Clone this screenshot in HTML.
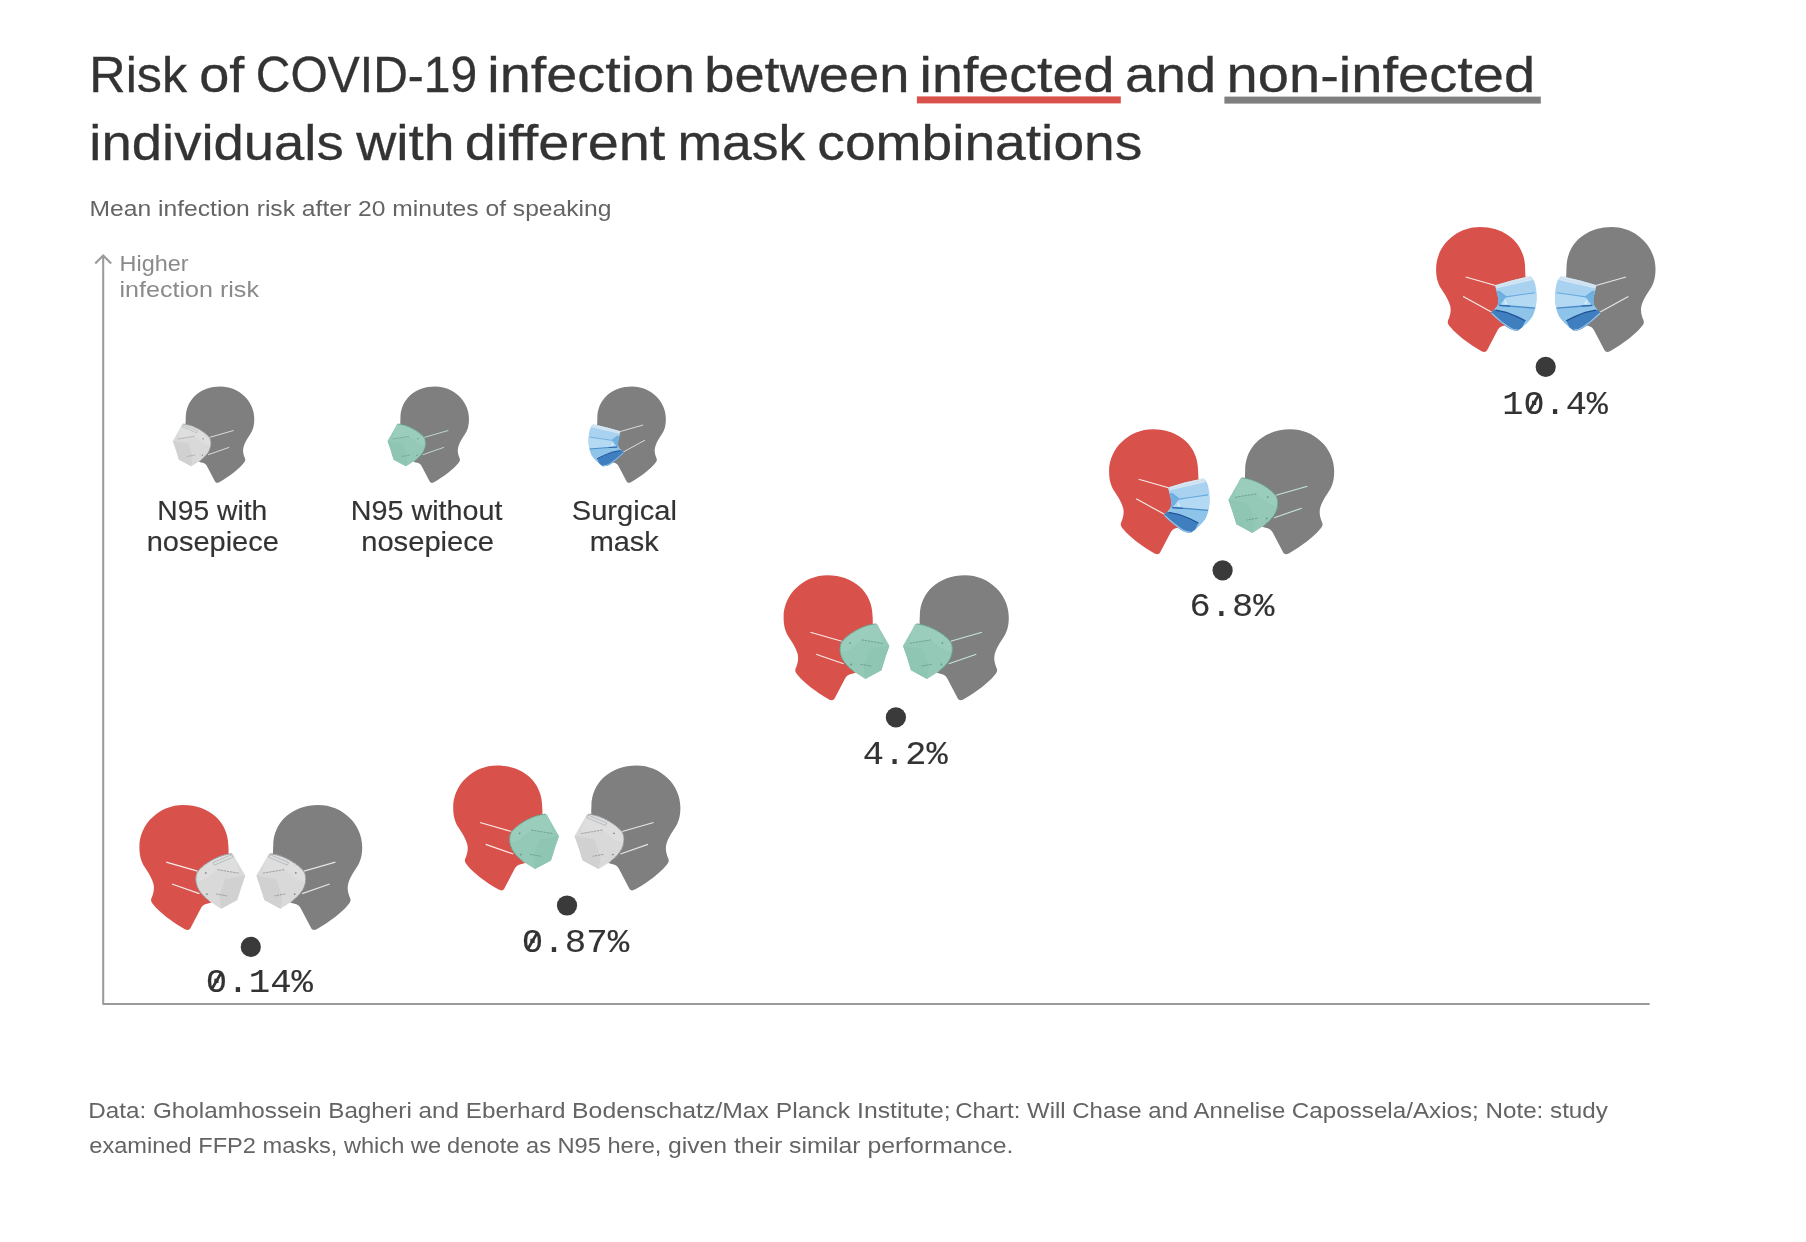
<!DOCTYPE html>
<html lang="en"><head><meta charset="utf-8"><title>Risk of COVID-19 infection with different mask combinations</title>
<style>html,body{margin:0;padding:0;background:#fff}svg{display:block}text{white-space:pre}</style></head>
<body>
<svg width="1806" height="1242" viewBox="0 0 1806 1242">
<rect width="1806" height="1242" fill="#fff"/>
<rect x="916.9" y="96.4" width="203.9" height="7" fill="#d8524b"/>
<rect x="1224.4" y="96.6" width="316.4" height="7" fill="#7f7f7f"/>
<path d="M103.2 255.6V1004H1649.7" fill="none" stroke="#9b9b9b" stroke-width="2.05" stroke-linejoin="round"/>
<path d="M96 262.8L103.2 255.5L110.4 262.8" fill="none" stroke="#9b9b9b" stroke-width="2.15" stroke-linecap="square"/>
<g transform="translate(254.28 386.60) scale(-0.77000 0.77000)"><path d="M43.8 0C20 0 0 19 0 42C0 50 1.5 56.5 5.3 62C8.5 66.8 12.8 73.5 14.1 79C14.9 82.5 14.6 86 13.3 90C12.6 92 11.9 93.3 11.7 94.5C11.4 96.5 12.6 98.2 14.5 100.2C20 107 32 116.5 45.5 124.1C47.5 125.2 49.8 125.4 51 123.2L60.7 104.7C62 101.5 64.5 99 68.6 98.5C71 98.2 73 97 75 95L90 86L93 78L95 70L92 58L89.2 48.5C89.3 46 89.05 43.5 89 41C89 17 70 0 43.8 0Z" fill="#7f7f7f"/><path d="M26.8 57L58.2 66M32.5 78.9L60 88.5" stroke="#e6e6e6" stroke-width="1.15" fill="none"/><path d="M105.8 70.5L95.9 53.3L93.8 49.2Q93.3 48.3 92 48.4L88.8 48.9C79 50.5 66 57 58.4 65.9C56 69 55.5 76 57.6 81.2C59.5 86.5 63 90.5 69.7 96L81.7 103.6L97.8 94.9L101.9 81.8Z" fill="#d9d9d9"/><path d="M105.8 70.5L101.9 81.8L97.8 94.9L81.7 103.6L80 91L86 74Z" fill="#d1d1d1"/><path d="M88.8 48.9C79 50.5 66 57 58.4 65.9C56.5 68.5 55.8 73 56.6 77.5L66 74L78 64.5L99.8 68.1L95.9 53.3L93.8 49.2Q93.3 48.3 92 48.4Z" fill="#e1e1e3" opacity="0.6"/><path d="M92 48.6L88.8 49.1C79 50.7 66.2 57.2 58.6 66.1C56.2 69.2 55.7 76 57.8 81.2C59.7 86.5 63.2 90.4 69.8 95.8" stroke="#858b8d" stroke-width="1" fill="none" stroke-dasharray="1.3 0.45"/><path d="M77.9 64.5L99.8 68.1" stroke="#6f6f6f" stroke-width="0.55" stroke-dasharray="2.4 0.8" fill="none"/><path d="M76.8 88.9L87.7 90.8" stroke="#6f6f6f" stroke-width="0.55" stroke-dasharray="2.4 0.8" fill="none"/><circle cx="66.4" cy="67.8" r="0.9" fill="#858b8d"/><circle cx="67.5" cy="89.1" r="0.9" fill="#858b8d"/><path d="M73.6 57.4L92.3 49.6L93.6 52L75 60Z" fill="#dcdfe0" stroke="#8e9496" stroke-width="0.45"/></g>
<g transform="translate(468.98 386.60) scale(-0.77000 0.77000)"><path d="M43.8 0C20 0 0 19 0 42C0 50 1.5 56.5 5.3 62C8.5 66.8 12.8 73.5 14.1 79C14.9 82.5 14.6 86 13.3 90C12.6 92 11.9 93.3 11.7 94.5C11.4 96.5 12.6 98.2 14.5 100.2C20 107 32 116.5 45.5 124.1C47.5 125.2 49.8 125.4 51 123.2L60.7 104.7C62 101.5 64.5 99 68.6 98.5C71 98.2 73 97 75 95L90 86L93 78L95 70L92 58L89.2 48.5C89.3 46 89.05 43.5 89 41C89 17 70 0 43.8 0Z" fill="#7f7f7f"/><path d="M26.8 57L58.2 66M32.5 78.9L60 88.5" stroke="#c4e4d9" stroke-width="1.15" fill="none"/><path d="M105.8 70.5L95.9 53.3L93.8 49.2Q93.3 48.3 92 48.4L88.8 48.9C79 50.5 66 57 58.4 65.9C56 69 55.5 76 57.6 81.2C59.5 86.5 63 90.5 69.7 96L81.7 103.6L97.8 94.9L101.9 81.8Z" fill="#94c9b8"/><path d="M105.8 70.5L101.9 81.8L97.8 94.9L81.7 103.6L80 91L86 74Z" fill="#8fc5b3"/><path d="M88.8 48.9C79 50.5 66 57 58.4 65.9C56.5 68.5 55.8 73 56.6 77.5L66 74L78 64.5L99.8 68.1L95.9 53.3L93.8 49.2Q93.3 48.3 92 48.4Z" fill="#a0d0c0" opacity="0.6"/><path d="M92 48.6L88.8 49.1C79 50.7 66.2 57.2 58.6 66.1C56.2 69.2 55.7 76 57.8 81.2C59.7 86.5 63.2 90.4 69.8 95.8" stroke="#5f9a89" stroke-width="1" fill="none" stroke-dasharray="1.3 0.45"/><path d="M77.9 64.5L99.8 68.1" stroke="#4a8070" stroke-width="0.55" stroke-dasharray="2.4 0.8" fill="none"/><path d="M76.8 88.9L87.7 90.8" stroke="#4a8070" stroke-width="0.55" stroke-dasharray="2.4 0.8" fill="none"/><circle cx="66.4" cy="67.8" r="0.9" fill="#5f9a89"/><circle cx="67.5" cy="89.1" r="0.9" fill="#5f9a89"/></g>
<g transform="translate(665.88 386.60) scale(-0.77000 0.77000)"><path d="M43.8 0C20 0 0 19 0 42C0 50 1.5 56.5 5.3 62C8.5 66.8 12.8 73.5 14.1 79C14.9 82.5 14.6 86 13.3 90C12.6 92 11.9 93.3 11.7 94.5C11.4 96.5 12.6 98.2 14.5 100.2C20 107 32 116.5 45.5 124.1C47.5 125.2 49.8 125.4 51 123.2L60.7 104.7C62 101.5 64.5 99 68.6 98.5C71 98.2 73 97 75 95L90 86L93 78L95 70L92 58L89.2 48.5C89.3 46 89.05 43.5 89 41C89 17 70 0 43.8 0Z" fill="#7f7f7f"/><path d="M29.6 49.9L59.4 58.4M27.1 69.5L55.3 85" stroke="#e6e6e6" stroke-width="1.15" fill="none"/><path d="M59 58.1L75.5 53.3L91.4 49.6L94.6 49.3C96 50.4 97 51.8 97.8 53.3C98.8 55.5 99.4 57.8 99.7 60.2C100.3 63 100.5 65.6 100.5 68.2C100.6 70.7 100.5 73.2 100.2 75.7C99.9 78.2 99.5 80.7 98.9 83.1C98.2 85.4 97.3 87.5 96.2 89.5C94.8 91.6 93.2 93.5 91.4 95.3L86.1 100.1L81.9 103.3C80 103.5 78.2 103.3 76.5 102.8C74.6 102.1 72.8 101.2 71.2 100.1L64.8 95.3L59.5 90.5L54.7 85.8L58.5 82C59.6 81 60.5 80 61.1 78.9C61.8 77.5 62.2 76 62.2 74.6C62.3 72.8 62.1 71 61.7 69.3L60.3 64Z" fill="#a9d2f0"/><path d="M70.2 69.8L80.8 68.2L98.9 65.6L100.5 68.2L100.2 75.7L98.9 81L78.7 79.4L63.3 78.3L62.2 74.6Z" fill="#b4d9f3"/><path d="M62.7 64L70.2 69.8L67 74L63.3 78.3L61.1 78.9C62.4 76 62.5 72 61.7 69.3L60.3 64Z" fill="#6fb0e2"/><path d="M62.7 64L70.2 69.8L80.8 68.2L98.9 65.6" stroke="#69a9de" stroke-width="1.1" fill="none"/><path d="M63.3 78.3L78.7 79.4L98.9 81C98.3 84 97.4 87 96.2 89.5C94.8 91.6 93.2 93.5 91.4 95.3L86.1 100.1L81.9 103.3L89.3 93.7L80.8 89.5L70.2 85.2L59.5 83.1L61.1 78.9Z" fill="#8ec4ea"/><path d="M63.3 78.3L78.7 79.4L98.9 81" stroke="#4a8ccb" stroke-width="1.3" fill="none"/><path d="M63.3 78.3L74 79.1" stroke="#2f69ad" stroke-width="1.3" fill="none"/><path d="M54.7 85.8L58.5 82L59.5 83.1L70.2 85.2L80.8 89.5L89.3 93.7L86.1 100.1L81.9 103.3C80 103.5 78.2 103.3 76.5 102.8C74.6 102.1 72.8 101.2 71.2 100.1L64.8 95.3L59.5 90.5Z" fill="#3f7fbf"/><path d="M59.5 83.1L70.2 85.2L80.8 89.5L89.3 93.7" stroke="#1f4f90" stroke-width="1.2" fill="none"/><path d="M55.6 86.2L60.2 90.4L65.4 94.8L71.7 99.5C73.2 100.5 74.9 101.4 76.7 102.1C78.3 102.6 80 102.8 81.6 102.7" stroke="#9cc5e6" stroke-width="1.2" fill="none"/><path d="M68 71.4L71.2 76.7L69.1 77.3Z" fill="#dbf1fa"/><path d="M59 58.1L75.5 53.3L91.4 49.6L94.6 49.3C95.5 50.3 96.2 51.5 96.7 52.8L60.1 61.3Z" fill="#d6e7f4"/><path d="M59.8 59.9L95.6 51" stroke="#b3cbe0" stroke-width="0.6" stroke-dasharray="1 0.8" fill="none"/></g>
<g transform="translate(139.40 805.10) scale(1.00000 1.00000)"><path d="M43.8 0C20 0 0 19 0 42C0 50 1.5 56.5 5.3 62C8.5 66.8 12.8 73.5 14.1 79C14.9 82.5 14.6 86 13.3 90C12.6 92 11.9 93.3 11.7 94.5C11.4 96.5 12.6 98.2 14.5 100.2C20 107 32 116.5 45.5 124.1C47.5 125.2 49.8 125.4 51 123.2L60.7 104.7C62 101.5 64.5 99 68.6 98.5C71 98.2 73 97 75 95L90 86L93 78L95 70L92 58L89.2 48.5C89.3 46 89.05 43.5 89 41C89 17 70 0 43.8 0Z" fill="#d8524b"/><path d="M26.8 57L58.2 66M32.5 78.9L60 88.5" stroke="#f8ecea" stroke-width="1.15" fill="none"/><path d="M105.8 70.5L95.9 53.3L93.8 49.2Q93.3 48.3 92 48.4L88.8 48.9C79 50.5 66 57 58.4 65.9C56 69 55.5 76 57.6 81.2C59.5 86.5 63 90.5 69.7 96L81.7 103.6L97.8 94.9L101.9 81.8Z" fill="#d9d9d9"/><path d="M105.8 70.5L101.9 81.8L97.8 94.9L81.7 103.6L80 91L86 74Z" fill="#d1d1d1"/><path d="M88.8 48.9C79 50.5 66 57 58.4 65.9C56.5 68.5 55.8 73 56.6 77.5L66 74L78 64.5L99.8 68.1L95.9 53.3L93.8 49.2Q93.3 48.3 92 48.4Z" fill="#e1e1e3" opacity="0.6"/><path d="M92 48.6L88.8 49.1C79 50.7 66.2 57.2 58.6 66.1C56.2 69.2 55.7 76 57.8 81.2C59.7 86.5 63.2 90.4 69.8 95.8" stroke="#858b8d" stroke-width="1" fill="none" stroke-dasharray="1.3 0.45"/><path d="M77.9 64.5L99.8 68.1" stroke="#6f6f6f" stroke-width="0.55" stroke-dasharray="2.4 0.8" fill="none"/><path d="M76.8 88.9L87.7 90.8" stroke="#6f6f6f" stroke-width="0.55" stroke-dasharray="2.4 0.8" fill="none"/><circle cx="66.4" cy="67.8" r="0.9" fill="#858b8d"/><circle cx="67.5" cy="89.1" r="0.9" fill="#858b8d"/><path d="M73.6 57.4L92.3 49.6L93.6 52L75 60Z" fill="#dcdfe0" stroke="#8e9496" stroke-width="0.45"/></g>
<g transform="translate(362.20 805.10) scale(-1.00000 1.00000)"><path d="M43.8 0C20 0 0 19 0 42C0 50 1.5 56.5 5.3 62C8.5 66.8 12.8 73.5 14.1 79C14.9 82.5 14.6 86 13.3 90C12.6 92 11.9 93.3 11.7 94.5C11.4 96.5 12.6 98.2 14.5 100.2C20 107 32 116.5 45.5 124.1C47.5 125.2 49.8 125.4 51 123.2L60.7 104.7C62 101.5 64.5 99 68.6 98.5C71 98.2 73 97 75 95L90 86L93 78L95 70L92 58L89.2 48.5C89.3 46 89.05 43.5 89 41C89 17 70 0 43.8 0Z" fill="#7f7f7f"/><path d="M26.8 57L58.2 66M32.5 78.9L60 88.5" stroke="#e6e6e6" stroke-width="1.15" fill="none"/><path d="M105.8 70.5L95.9 53.3L93.8 49.2Q93.3 48.3 92 48.4L88.8 48.9C79 50.5 66 57 58.4 65.9C56 69 55.5 76 57.6 81.2C59.5 86.5 63 90.5 69.7 96L81.7 103.6L97.8 94.9L101.9 81.8Z" fill="#d9d9d9"/><path d="M105.8 70.5L101.9 81.8L97.8 94.9L81.7 103.6L80 91L86 74Z" fill="#d1d1d1"/><path d="M88.8 48.9C79 50.5 66 57 58.4 65.9C56.5 68.5 55.8 73 56.6 77.5L66 74L78 64.5L99.8 68.1L95.9 53.3L93.8 49.2Q93.3 48.3 92 48.4Z" fill="#e1e1e3" opacity="0.6"/><path d="M92 48.6L88.8 49.1C79 50.7 66.2 57.2 58.6 66.1C56.2 69.2 55.7 76 57.8 81.2C59.7 86.5 63.2 90.4 69.8 95.8" stroke="#858b8d" stroke-width="1" fill="none" stroke-dasharray="1.3 0.45"/><path d="M77.9 64.5L99.8 68.1" stroke="#6f6f6f" stroke-width="0.55" stroke-dasharray="2.4 0.8" fill="none"/><path d="M76.8 88.9L87.7 90.8" stroke="#6f6f6f" stroke-width="0.55" stroke-dasharray="2.4 0.8" fill="none"/><circle cx="66.4" cy="67.8" r="0.9" fill="#858b8d"/><circle cx="67.5" cy="89.1" r="0.9" fill="#858b8d"/><path d="M73.6 57.4L92.3 49.6L93.6 52L75 60Z" fill="#dcdfe0" stroke="#8e9496" stroke-width="0.45"/></g>
<circle cx="250.8" cy="946.9" r="10.1" fill="#3a3a3a"/>
<g transform="translate(453.20 765.50) scale(1.00000 1.00000)"><path d="M43.8 0C20 0 0 19 0 42C0 50 1.5 56.5 5.3 62C8.5 66.8 12.8 73.5 14.1 79C14.9 82.5 14.6 86 13.3 90C12.6 92 11.9 93.3 11.7 94.5C11.4 96.5 12.6 98.2 14.5 100.2C20 107 32 116.5 45.5 124.1C47.5 125.2 49.8 125.4 51 123.2L60.7 104.7C62 101.5 64.5 99 68.6 98.5C71 98.2 73 97 75 95L90 86L93 78L95 70L92 58L89.2 48.5C89.3 46 89.05 43.5 89 41C89 17 70 0 43.8 0Z" fill="#d8524b"/><path d="M26.8 57L58.2 66M32.5 78.9L60 88.5" stroke="#f8ecea" stroke-width="1.15" fill="none"/><path d="M105.8 70.5L95.9 53.3L93.8 49.2Q93.3 48.3 92 48.4L88.8 48.9C79 50.5 66 57 58.4 65.9C56 69 55.5 76 57.6 81.2C59.5 86.5 63 90.5 69.7 96L81.7 103.6L97.8 94.9L101.9 81.8Z" fill="#94c9b8"/><path d="M105.8 70.5L101.9 81.8L97.8 94.9L81.7 103.6L80 91L86 74Z" fill="#8fc5b3"/><path d="M88.8 48.9C79 50.5 66 57 58.4 65.9C56.5 68.5 55.8 73 56.6 77.5L66 74L78 64.5L99.8 68.1L95.9 53.3L93.8 49.2Q93.3 48.3 92 48.4Z" fill="#a0d0c0" opacity="0.6"/><path d="M92 48.6L88.8 49.1C79 50.7 66.2 57.2 58.6 66.1C56.2 69.2 55.7 76 57.8 81.2C59.7 86.5 63.2 90.4 69.8 95.8" stroke="#5f9a89" stroke-width="1" fill="none" stroke-dasharray="1.3 0.45"/><path d="M77.9 64.5L99.8 68.1" stroke="#4a8070" stroke-width="0.55" stroke-dasharray="2.4 0.8" fill="none"/><path d="M76.8 88.9L87.7 90.8" stroke="#4a8070" stroke-width="0.55" stroke-dasharray="2.4 0.8" fill="none"/><circle cx="66.4" cy="67.8" r="0.9" fill="#5f9a89"/><circle cx="67.5" cy="89.1" r="0.9" fill="#5f9a89"/></g>
<g transform="translate(680.40 765.50) scale(-1.00000 1.00000)"><path d="M43.8 0C20 0 0 19 0 42C0 50 1.5 56.5 5.3 62C8.5 66.8 12.8 73.5 14.1 79C14.9 82.5 14.6 86 13.3 90C12.6 92 11.9 93.3 11.7 94.5C11.4 96.5 12.6 98.2 14.5 100.2C20 107 32 116.5 45.5 124.1C47.5 125.2 49.8 125.4 51 123.2L60.7 104.7C62 101.5 64.5 99 68.6 98.5C71 98.2 73 97 75 95L90 86L93 78L95 70L92 58L89.2 48.5C89.3 46 89.05 43.5 89 41C89 17 70 0 43.8 0Z" fill="#7f7f7f"/><path d="M26.8 57L58.2 66M32.5 78.9L60 88.5" stroke="#e6e6e6" stroke-width="1.15" fill="none"/><path d="M105.8 70.5L95.9 53.3L93.8 49.2Q93.3 48.3 92 48.4L88.8 48.9C79 50.5 66 57 58.4 65.9C56 69 55.5 76 57.6 81.2C59.5 86.5 63 90.5 69.7 96L81.7 103.6L97.8 94.9L101.9 81.8Z" fill="#d9d9d9"/><path d="M105.8 70.5L101.9 81.8L97.8 94.9L81.7 103.6L80 91L86 74Z" fill="#d1d1d1"/><path d="M88.8 48.9C79 50.5 66 57 58.4 65.9C56.5 68.5 55.8 73 56.6 77.5L66 74L78 64.5L99.8 68.1L95.9 53.3L93.8 49.2Q93.3 48.3 92 48.4Z" fill="#e1e1e3" opacity="0.6"/><path d="M92 48.6L88.8 49.1C79 50.7 66.2 57.2 58.6 66.1C56.2 69.2 55.7 76 57.8 81.2C59.7 86.5 63.2 90.4 69.8 95.8" stroke="#858b8d" stroke-width="1" fill="none" stroke-dasharray="1.3 0.45"/><path d="M77.9 64.5L99.8 68.1" stroke="#6f6f6f" stroke-width="0.55" stroke-dasharray="2.4 0.8" fill="none"/><path d="M76.8 88.9L87.7 90.8" stroke="#6f6f6f" stroke-width="0.55" stroke-dasharray="2.4 0.8" fill="none"/><circle cx="66.4" cy="67.8" r="0.9" fill="#858b8d"/><circle cx="67.5" cy="89.1" r="0.9" fill="#858b8d"/><path d="M73.6 57.4L92.3 49.6L93.6 52L75 60Z" fill="#dcdfe0" stroke="#8e9496" stroke-width="0.45"/></g>
<circle cx="567.0" cy="905.5" r="10.1" fill="#3a3a3a"/>
<g transform="translate(783.60 575.30) scale(1.00000 1.00000)"><path d="M43.8 0C20 0 0 19 0 42C0 50 1.5 56.5 5.3 62C8.5 66.8 12.8 73.5 14.1 79C14.9 82.5 14.6 86 13.3 90C12.6 92 11.9 93.3 11.7 94.5C11.4 96.5 12.6 98.2 14.5 100.2C20 107 32 116.5 45.5 124.1C47.5 125.2 49.8 125.4 51 123.2L60.7 104.7C62 101.5 64.5 99 68.6 98.5C71 98.2 73 97 75 95L90 86L93 78L95 70L92 58L89.2 48.5C89.3 46 89.05 43.5 89 41C89 17 70 0 43.8 0Z" fill="#d8524b"/><path d="M26.8 57L58.2 66M32.5 78.9L60 88.5" stroke="#f8ecea" stroke-width="1.15" fill="none"/><path d="M105.8 70.5L95.9 53.3L93.8 49.2Q93.3 48.3 92 48.4L88.8 48.9C79 50.5 66 57 58.4 65.9C56 69 55.5 76 57.6 81.2C59.5 86.5 63 90.5 69.7 96L81.7 103.6L97.8 94.9L101.9 81.8Z" fill="#94c9b8"/><path d="M105.8 70.5L101.9 81.8L97.8 94.9L81.7 103.6L80 91L86 74Z" fill="#8fc5b3"/><path d="M88.8 48.9C79 50.5 66 57 58.4 65.9C56.5 68.5 55.8 73 56.6 77.5L66 74L78 64.5L99.8 68.1L95.9 53.3L93.8 49.2Q93.3 48.3 92 48.4Z" fill="#a0d0c0" opacity="0.6"/><path d="M92 48.6L88.8 49.1C79 50.7 66.2 57.2 58.6 66.1C56.2 69.2 55.7 76 57.8 81.2C59.7 86.5 63.2 90.4 69.8 95.8" stroke="#5f9a89" stroke-width="1" fill="none" stroke-dasharray="1.3 0.45"/><path d="M77.9 64.5L99.8 68.1" stroke="#4a8070" stroke-width="0.55" stroke-dasharray="2.4 0.8" fill="none"/><path d="M76.8 88.9L87.7 90.8" stroke="#4a8070" stroke-width="0.55" stroke-dasharray="2.4 0.8" fill="none"/><circle cx="66.4" cy="67.8" r="0.9" fill="#5f9a89"/><circle cx="67.5" cy="89.1" r="0.9" fill="#5f9a89"/></g>
<g transform="translate(1008.80 575.30) scale(-1.00000 1.00000)"><path d="M43.8 0C20 0 0 19 0 42C0 50 1.5 56.5 5.3 62C8.5 66.8 12.8 73.5 14.1 79C14.9 82.5 14.6 86 13.3 90C12.6 92 11.9 93.3 11.7 94.5C11.4 96.5 12.6 98.2 14.5 100.2C20 107 32 116.5 45.5 124.1C47.5 125.2 49.8 125.4 51 123.2L60.7 104.7C62 101.5 64.5 99 68.6 98.5C71 98.2 73 97 75 95L90 86L93 78L95 70L92 58L89.2 48.5C89.3 46 89.05 43.5 89 41C89 17 70 0 43.8 0Z" fill="#7f7f7f"/><path d="M26.8 57L58.2 66M32.5 78.9L60 88.5" stroke="#c4e4d9" stroke-width="1.15" fill="none"/><path d="M105.8 70.5L95.9 53.3L93.8 49.2Q93.3 48.3 92 48.4L88.8 48.9C79 50.5 66 57 58.4 65.9C56 69 55.5 76 57.6 81.2C59.5 86.5 63 90.5 69.7 96L81.7 103.6L97.8 94.9L101.9 81.8Z" fill="#94c9b8"/><path d="M105.8 70.5L101.9 81.8L97.8 94.9L81.7 103.6L80 91L86 74Z" fill="#8fc5b3"/><path d="M88.8 48.9C79 50.5 66 57 58.4 65.9C56.5 68.5 55.8 73 56.6 77.5L66 74L78 64.5L99.8 68.1L95.9 53.3L93.8 49.2Q93.3 48.3 92 48.4Z" fill="#a0d0c0" opacity="0.6"/><path d="M92 48.6L88.8 49.1C79 50.7 66.2 57.2 58.6 66.1C56.2 69.2 55.7 76 57.8 81.2C59.7 86.5 63.2 90.4 69.8 95.8" stroke="#5f9a89" stroke-width="1" fill="none" stroke-dasharray="1.3 0.45"/><path d="M77.9 64.5L99.8 68.1" stroke="#4a8070" stroke-width="0.55" stroke-dasharray="2.4 0.8" fill="none"/><path d="M76.8 88.9L87.7 90.8" stroke="#4a8070" stroke-width="0.55" stroke-dasharray="2.4 0.8" fill="none"/><circle cx="66.4" cy="67.8" r="0.9" fill="#5f9a89"/><circle cx="67.5" cy="89.1" r="0.9" fill="#5f9a89"/></g>
<circle cx="895.9" cy="717.4" r="10.1" fill="#3a3a3a"/>
<g transform="translate(1109.10 429.30) scale(1.00000 1.00000)"><path d="M43.8 0C20 0 0 19 0 42C0 50 1.5 56.5 5.3 62C8.5 66.8 12.8 73.5 14.1 79C14.9 82.5 14.6 86 13.3 90C12.6 92 11.9 93.3 11.7 94.5C11.4 96.5 12.6 98.2 14.5 100.2C20 107 32 116.5 45.5 124.1C47.5 125.2 49.8 125.4 51 123.2L60.7 104.7C62 101.5 64.5 99 68.6 98.5C71 98.2 73 97 75 95L90 86L93 78L95 70L92 58L89.2 48.5C89.3 46 89.05 43.5 89 41C89 17 70 0 43.8 0Z" fill="#d8524b"/><path d="M29.6 49.9L59.4 58.4M27.1 69.5L55.3 85" stroke="#f8ecea" stroke-width="1.15" fill="none"/><path d="M59 58.1L75.5 53.3L91.4 49.6L94.6 49.3C96 50.4 97 51.8 97.8 53.3C98.8 55.5 99.4 57.8 99.7 60.2C100.3 63 100.5 65.6 100.5 68.2C100.6 70.7 100.5 73.2 100.2 75.7C99.9 78.2 99.5 80.7 98.9 83.1C98.2 85.4 97.3 87.5 96.2 89.5C94.8 91.6 93.2 93.5 91.4 95.3L86.1 100.1L81.9 103.3C80 103.5 78.2 103.3 76.5 102.8C74.6 102.1 72.8 101.2 71.2 100.1L64.8 95.3L59.5 90.5L54.7 85.8L58.5 82C59.6 81 60.5 80 61.1 78.9C61.8 77.5 62.2 76 62.2 74.6C62.3 72.8 62.1 71 61.7 69.3L60.3 64Z" fill="#a9d2f0"/><path d="M70.2 69.8L80.8 68.2L98.9 65.6L100.5 68.2L100.2 75.7L98.9 81L78.7 79.4L63.3 78.3L62.2 74.6Z" fill="#b4d9f3"/><path d="M62.7 64L70.2 69.8L67 74L63.3 78.3L61.1 78.9C62.4 76 62.5 72 61.7 69.3L60.3 64Z" fill="#6fb0e2"/><path d="M62.7 64L70.2 69.8L80.8 68.2L98.9 65.6" stroke="#69a9de" stroke-width="1.1" fill="none"/><path d="M63.3 78.3L78.7 79.4L98.9 81C98.3 84 97.4 87 96.2 89.5C94.8 91.6 93.2 93.5 91.4 95.3L86.1 100.1L81.9 103.3L89.3 93.7L80.8 89.5L70.2 85.2L59.5 83.1L61.1 78.9Z" fill="#8ec4ea"/><path d="M63.3 78.3L78.7 79.4L98.9 81" stroke="#4a8ccb" stroke-width="1.3" fill="none"/><path d="M63.3 78.3L74 79.1" stroke="#2f69ad" stroke-width="1.3" fill="none"/><path d="M54.7 85.8L58.5 82L59.5 83.1L70.2 85.2L80.8 89.5L89.3 93.7L86.1 100.1L81.9 103.3C80 103.5 78.2 103.3 76.5 102.8C74.6 102.1 72.8 101.2 71.2 100.1L64.8 95.3L59.5 90.5Z" fill="#3f7fbf"/><path d="M59.5 83.1L70.2 85.2L80.8 89.5L89.3 93.7" stroke="#1f4f90" stroke-width="1.2" fill="none"/><path d="M55.6 86.2L60.2 90.4L65.4 94.8L71.7 99.5C73.2 100.5 74.9 101.4 76.7 102.1C78.3 102.6 80 102.8 81.6 102.7" stroke="#9cc5e6" stroke-width="1.2" fill="none"/><path d="M68 71.4L71.2 76.7L69.1 77.3Z" fill="#dbf1fa"/><path d="M59 58.1L75.5 53.3L91.4 49.6L94.6 49.3C95.5 50.3 96.2 51.5 96.7 52.8L60.1 61.3Z" fill="#d6e7f4"/><path d="M59.8 59.9L95.6 51" stroke="#b3cbe0" stroke-width="0.6" stroke-dasharray="1 0.8" fill="none"/></g>
<g transform="translate(1334.20 429.30) scale(-1.00000 1.00000)"><path d="M43.8 0C20 0 0 19 0 42C0 50 1.5 56.5 5.3 62C8.5 66.8 12.8 73.5 14.1 79C14.9 82.5 14.6 86 13.3 90C12.6 92 11.9 93.3 11.7 94.5C11.4 96.5 12.6 98.2 14.5 100.2C20 107 32 116.5 45.5 124.1C47.5 125.2 49.8 125.4 51 123.2L60.7 104.7C62 101.5 64.5 99 68.6 98.5C71 98.2 73 97 75 95L90 86L93 78L95 70L92 58L89.2 48.5C89.3 46 89.05 43.5 89 41C89 17 70 0 43.8 0Z" fill="#7f7f7f"/><path d="M26.8 57L58.2 66M32.5 78.9L60 88.5" stroke="#c4e4d9" stroke-width="1.15" fill="none"/><path d="M105.8 70.5L95.9 53.3L93.8 49.2Q93.3 48.3 92 48.4L88.8 48.9C79 50.5 66 57 58.4 65.9C56 69 55.5 76 57.6 81.2C59.5 86.5 63 90.5 69.7 96L81.7 103.6L97.8 94.9L101.9 81.8Z" fill="#94c9b8"/><path d="M105.8 70.5L101.9 81.8L97.8 94.9L81.7 103.6L80 91L86 74Z" fill="#8fc5b3"/><path d="M88.8 48.9C79 50.5 66 57 58.4 65.9C56.5 68.5 55.8 73 56.6 77.5L66 74L78 64.5L99.8 68.1L95.9 53.3L93.8 49.2Q93.3 48.3 92 48.4Z" fill="#a0d0c0" opacity="0.6"/><path d="M92 48.6L88.8 49.1C79 50.7 66.2 57.2 58.6 66.1C56.2 69.2 55.7 76 57.8 81.2C59.7 86.5 63.2 90.4 69.8 95.8" stroke="#5f9a89" stroke-width="1" fill="none" stroke-dasharray="1.3 0.45"/><path d="M77.9 64.5L99.8 68.1" stroke="#4a8070" stroke-width="0.55" stroke-dasharray="2.4 0.8" fill="none"/><path d="M76.8 88.9L87.7 90.8" stroke="#4a8070" stroke-width="0.55" stroke-dasharray="2.4 0.8" fill="none"/><circle cx="66.4" cy="67.8" r="0.9" fill="#5f9a89"/><circle cx="67.5" cy="89.1" r="0.9" fill="#5f9a89"/></g>
<circle cx="1222.6" cy="570.4" r="10.1" fill="#3a3a3a"/>
<g transform="translate(1436.10 227.10) scale(1.00000 1.00000)"><path d="M43.8 0C20 0 0 19 0 42C0 50 1.5 56.5 5.3 62C8.5 66.8 12.8 73.5 14.1 79C14.9 82.5 14.6 86 13.3 90C12.6 92 11.9 93.3 11.7 94.5C11.4 96.5 12.6 98.2 14.5 100.2C20 107 32 116.5 45.5 124.1C47.5 125.2 49.8 125.4 51 123.2L60.7 104.7C62 101.5 64.5 99 68.6 98.5C71 98.2 73 97 75 95L90 86L93 78L95 70L92 58L89.2 48.5C89.3 46 89.05 43.5 89 41C89 17 70 0 43.8 0Z" fill="#d8524b"/><path d="M29.6 49.9L59.4 58.4M27.1 69.5L55.3 85" stroke="#f8ecea" stroke-width="1.15" fill="none"/><path d="M59 58.1L75.5 53.3L91.4 49.6L94.6 49.3C96 50.4 97 51.8 97.8 53.3C98.8 55.5 99.4 57.8 99.7 60.2C100.3 63 100.5 65.6 100.5 68.2C100.6 70.7 100.5 73.2 100.2 75.7C99.9 78.2 99.5 80.7 98.9 83.1C98.2 85.4 97.3 87.5 96.2 89.5C94.8 91.6 93.2 93.5 91.4 95.3L86.1 100.1L81.9 103.3C80 103.5 78.2 103.3 76.5 102.8C74.6 102.1 72.8 101.2 71.2 100.1L64.8 95.3L59.5 90.5L54.7 85.8L58.5 82C59.6 81 60.5 80 61.1 78.9C61.8 77.5 62.2 76 62.2 74.6C62.3 72.8 62.1 71 61.7 69.3L60.3 64Z" fill="#a9d2f0"/><path d="M70.2 69.8L80.8 68.2L98.9 65.6L100.5 68.2L100.2 75.7L98.9 81L78.7 79.4L63.3 78.3L62.2 74.6Z" fill="#b4d9f3"/><path d="M62.7 64L70.2 69.8L67 74L63.3 78.3L61.1 78.9C62.4 76 62.5 72 61.7 69.3L60.3 64Z" fill="#6fb0e2"/><path d="M62.7 64L70.2 69.8L80.8 68.2L98.9 65.6" stroke="#69a9de" stroke-width="1.1" fill="none"/><path d="M63.3 78.3L78.7 79.4L98.9 81C98.3 84 97.4 87 96.2 89.5C94.8 91.6 93.2 93.5 91.4 95.3L86.1 100.1L81.9 103.3L89.3 93.7L80.8 89.5L70.2 85.2L59.5 83.1L61.1 78.9Z" fill="#8ec4ea"/><path d="M63.3 78.3L78.7 79.4L98.9 81" stroke="#4a8ccb" stroke-width="1.3" fill="none"/><path d="M63.3 78.3L74 79.1" stroke="#2f69ad" stroke-width="1.3" fill="none"/><path d="M54.7 85.8L58.5 82L59.5 83.1L70.2 85.2L80.8 89.5L89.3 93.7L86.1 100.1L81.9 103.3C80 103.5 78.2 103.3 76.5 102.8C74.6 102.1 72.8 101.2 71.2 100.1L64.8 95.3L59.5 90.5Z" fill="#3f7fbf"/><path d="M59.5 83.1L70.2 85.2L80.8 89.5L89.3 93.7" stroke="#1f4f90" stroke-width="1.2" fill="none"/><path d="M55.6 86.2L60.2 90.4L65.4 94.8L71.7 99.5C73.2 100.5 74.9 101.4 76.7 102.1C78.3 102.6 80 102.8 81.6 102.7" stroke="#9cc5e6" stroke-width="1.2" fill="none"/><path d="M68 71.4L71.2 76.7L69.1 77.3Z" fill="#dbf1fa"/><path d="M59 58.1L75.5 53.3L91.4 49.6L94.6 49.3C95.5 50.3 96.2 51.5 96.7 52.8L60.1 61.3Z" fill="#d6e7f4"/><path d="M59.8 59.9L95.6 51" stroke="#b3cbe0" stroke-width="0.6" stroke-dasharray="1 0.8" fill="none"/></g>
<g transform="translate(1655.50 227.10) scale(-1.00000 1.00000)"><path d="M43.8 0C20 0 0 19 0 42C0 50 1.5 56.5 5.3 62C8.5 66.8 12.8 73.5 14.1 79C14.9 82.5 14.6 86 13.3 90C12.6 92 11.9 93.3 11.7 94.5C11.4 96.5 12.6 98.2 14.5 100.2C20 107 32 116.5 45.5 124.1C47.5 125.2 49.8 125.4 51 123.2L60.7 104.7C62 101.5 64.5 99 68.6 98.5C71 98.2 73 97 75 95L90 86L93 78L95 70L92 58L89.2 48.5C89.3 46 89.05 43.5 89 41C89 17 70 0 43.8 0Z" fill="#7f7f7f"/><path d="M29.6 49.9L59.4 58.4M27.1 69.5L55.3 85" stroke="#e6e6e6" stroke-width="1.15" fill="none"/><path d="M59 58.1L75.5 53.3L91.4 49.6L94.6 49.3C96 50.4 97 51.8 97.8 53.3C98.8 55.5 99.4 57.8 99.7 60.2C100.3 63 100.5 65.6 100.5 68.2C100.6 70.7 100.5 73.2 100.2 75.7C99.9 78.2 99.5 80.7 98.9 83.1C98.2 85.4 97.3 87.5 96.2 89.5C94.8 91.6 93.2 93.5 91.4 95.3L86.1 100.1L81.9 103.3C80 103.5 78.2 103.3 76.5 102.8C74.6 102.1 72.8 101.2 71.2 100.1L64.8 95.3L59.5 90.5L54.7 85.8L58.5 82C59.6 81 60.5 80 61.1 78.9C61.8 77.5 62.2 76 62.2 74.6C62.3 72.8 62.1 71 61.7 69.3L60.3 64Z" fill="#a9d2f0"/><path d="M70.2 69.8L80.8 68.2L98.9 65.6L100.5 68.2L100.2 75.7L98.9 81L78.7 79.4L63.3 78.3L62.2 74.6Z" fill="#b4d9f3"/><path d="M62.7 64L70.2 69.8L67 74L63.3 78.3L61.1 78.9C62.4 76 62.5 72 61.7 69.3L60.3 64Z" fill="#6fb0e2"/><path d="M62.7 64L70.2 69.8L80.8 68.2L98.9 65.6" stroke="#69a9de" stroke-width="1.1" fill="none"/><path d="M63.3 78.3L78.7 79.4L98.9 81C98.3 84 97.4 87 96.2 89.5C94.8 91.6 93.2 93.5 91.4 95.3L86.1 100.1L81.9 103.3L89.3 93.7L80.8 89.5L70.2 85.2L59.5 83.1L61.1 78.9Z" fill="#8ec4ea"/><path d="M63.3 78.3L78.7 79.4L98.9 81" stroke="#4a8ccb" stroke-width="1.3" fill="none"/><path d="M63.3 78.3L74 79.1" stroke="#2f69ad" stroke-width="1.3" fill="none"/><path d="M54.7 85.8L58.5 82L59.5 83.1L70.2 85.2L80.8 89.5L89.3 93.7L86.1 100.1L81.9 103.3C80 103.5 78.2 103.3 76.5 102.8C74.6 102.1 72.8 101.2 71.2 100.1L64.8 95.3L59.5 90.5Z" fill="#3f7fbf"/><path d="M59.5 83.1L70.2 85.2L80.8 89.5L89.3 93.7" stroke="#1f4f90" stroke-width="1.2" fill="none"/><path d="M55.6 86.2L60.2 90.4L65.4 94.8L71.7 99.5C73.2 100.5 74.9 101.4 76.7 102.1C78.3 102.6 80 102.8 81.6 102.7" stroke="#9cc5e6" stroke-width="1.2" fill="none"/><path d="M68 71.4L71.2 76.7L69.1 77.3Z" fill="#dbf1fa"/><path d="M59 58.1L75.5 53.3L91.4 49.6L94.6 49.3C95.5 50.3 96.2 51.5 96.7 52.8L60.1 61.3Z" fill="#d6e7f4"/><path d="M59.8 59.9L95.6 51" stroke="#b3cbe0" stroke-width="0.6" stroke-dasharray="1 0.8" fill="none"/></g>
<circle cx="1545.7" cy="366.8" r="10.1" fill="#3a3a3a"/>
<g opacity="0.999">
<text transform="translate(89.30 91.50) scale(1.0006 1)" font-family="'Liberation Sans', sans-serif" font-size="50.3" fill="#333333" stroke="#333" stroke-width="0.3">Risk</text>
<text transform="translate(199.15 91.50) scale(1.0763 1)" font-family="'Liberation Sans', sans-serif" font-size="50.3" fill="#333333" stroke="#333" stroke-width="0.3">of</text>
<text transform="translate(255.79 91.50) scale(0.9543 1)" font-family="'Liberation Sans', sans-serif" font-size="50.3" fill="#333333" stroke="#333" stroke-width="0.3">COVID-19</text>
<text transform="translate(487.27 91.50) scale(1.1099 1)" font-family="'Liberation Sans', sans-serif" font-size="50.3" fill="#333333" stroke="#333" stroke-width="0.3">infection</text>
<text transform="translate(704.26 91.50) scale(1.0788 1)" font-family="'Liberation Sans', sans-serif" font-size="50.3" fill="#333333" stroke="#333" stroke-width="0.3">between</text>
<text transform="translate(919.58 91.50) scale(1.1064 1)" font-family="'Liberation Sans', sans-serif" font-size="50.3" fill="#333333" stroke="#333" stroke-width="0.3">infected</text>
<text transform="translate(1125.03 91.50) scale(1.0856 1)" font-family="'Liberation Sans', sans-serif" font-size="50.3" fill="#333333" stroke="#333" stroke-width="0.3">and</text>
<text transform="translate(1226.56 91.50) scale(1.1150 1)" font-family="'Liberation Sans', sans-serif" font-size="50.3" fill="#333333" stroke="#333" stroke-width="0.3">non-infected</text>
<text transform="translate(89.35 160.20) scale(1.0832 1)" font-family="'Liberation Sans', sans-serif" font-size="50.3" fill="#333333" stroke="#333" stroke-width="0.3">individuals</text>
<text transform="translate(356.20 160.20) scale(1.1009 1)" font-family="'Liberation Sans', sans-serif" font-size="50.3" fill="#333333" stroke="#333" stroke-width="0.3">with</text>
<text transform="translate(464.78 160.20) scale(1.1093 1)" font-family="'Liberation Sans', sans-serif" font-size="50.3" fill="#333333" stroke="#333" stroke-width="0.3">different</text>
<text transform="translate(677.41 160.20) scale(1.0642 1)" font-family="'Liberation Sans', sans-serif" font-size="50.3" fill="#333333" stroke="#333" stroke-width="0.3">mask</text>
<text transform="translate(817.31 160.20) scale(1.0968 1)" font-family="'Liberation Sans', sans-serif" font-size="50.3" fill="#333333" stroke="#333" stroke-width="0.3">combinations</text>
<text transform="translate(89.52 215.50) scale(1.0817 1)" font-family="'Liberation Sans', sans-serif" font-size="22.8" fill="#646464" >Mean infection risk after 20 minutes of speaking</text>
<text transform="translate(119.56 271.40) scale(1.0358 1)" font-family="'Liberation Sans', sans-serif" font-size="22.6" fill="#8a8a8a" >Higher</text>
<text transform="translate(119.49 297.30) scale(1.1104 1)" font-family="'Liberation Sans', sans-serif" font-size="22.6" fill="#8a8a8a" >infection risk</text>
<text transform="translate(157.31 519.60) scale(1.0467 1)" font-family="'Liberation Sans', sans-serif" font-size="27" fill="#333333" stroke="#333333" stroke-width="0.15">N95 with</text>
<text transform="translate(146.73 551.40) scale(1.0737 1)" font-family="'Liberation Sans', sans-serif" font-size="27" fill="#333333" stroke="#333333" stroke-width="0.15">nosepiece</text>
<text transform="translate(350.87 519.60) scale(1.0632 1)" font-family="'Liberation Sans', sans-serif" font-size="27" fill="#333333" stroke="#333333" stroke-width="0.15">N95 without</text>
<text transform="translate(361.22 551.40) scale(1.0795 1)" font-family="'Liberation Sans', sans-serif" font-size="27" fill="#333333" stroke="#333333" stroke-width="0.15">nosepiece</text>
<text transform="translate(571.72 519.60) scale(1.0791 1)" font-family="'Liberation Sans', sans-serif" font-size="27" fill="#333333" stroke="#333333" stroke-width="0.15">Surgical</text>
<text transform="translate(589.63 551.40) scale(1.0718 1)" font-family="'Liberation Sans', sans-serif" font-size="27" fill="#333333" stroke="#333333" stroke-width="0.15">mask</text>
<text transform="translate(88.24 1117.70) scale(1.0644 1)" font-family="'Liberation Sans', sans-serif" font-size="22.8" fill="#646464" >Data: Gholamhossein Bagheri and Eberhard</text>
<text transform="translate(572.11 1117.70) scale(1.0863 1)" font-family="'Liberation Sans', sans-serif" font-size="22.8" fill="#646464" >Bodenschatz/Max Planck Institute;</text>
<text transform="translate(955.15 1117.70) scale(1.0519 1)" font-family="'Liberation Sans', sans-serif" font-size="22.8" fill="#646464" >Chart: Will Chase and Annelise</text>
<text transform="translate(1291.84 1117.70) scale(1.0620 1)" font-family="'Liberation Sans', sans-serif" font-size="22.8" fill="#646464" >Capossela/Axios; Note: study</text>
<text transform="translate(89.30 1153.40) scale(1.0364 1)" font-family="'Liberation Sans', sans-serif" font-size="22.8" fill="#646464" >examined FFP2 masks, which we</text>
<text transform="translate(447.10 1153.40) scale(1.0377 1)" font-family="'Liberation Sans', sans-serif" font-size="22.8" fill="#646464" >denote as N95 here,</text>
<text transform="translate(667.90 1153.40) scale(1.0866 1)" font-family="'Liberation Sans', sans-serif" font-size="22.8" fill="#646464" >given their similar performance.</text>
<text transform="translate(205.87 991.80) scale(1.0658 1)" font-family="'Liberation Mono', monospace" font-size="33.5" fill="#333333" stroke="#333333" stroke-width="0.12">0.14%</text>
<text transform="translate(521.86 951.60) scale(1.0693 1)" font-family="'Liberation Mono', monospace" font-size="33.5" fill="#333333" stroke="#333333" stroke-width="0.12">0.87%</text>
<text transform="translate(862.84 763.80) scale(1.0559 1)" font-family="'Liberation Mono', monospace" font-size="33.5" fill="#333333" stroke="#333333" stroke-width="0.12">4.2%</text>
<text transform="translate(1189.49 615.80) scale(1.0554 1)" font-family="'Liberation Mono', monospace" font-size="33.5" fill="#333333" stroke="#333333" stroke-width="0.12">6.8%</text>
<text transform="translate(1502.30 413.80) scale(1.0512 1)" font-family="'Liberation Mono', monospace" font-size="33.5" fill="#333333" stroke="#333333" stroke-width="0.12">10.4%</text>
<path d="M212.3 988.2L220.7 973.8" stroke="#333" stroke-width="2.7" fill="none"/>
<path d="M528.3 948.2L536.7 933.8" stroke="#333" stroke-width="2.7" fill="none"/>
<path d="M1529.8 410.2L1538.2 395.8" stroke="#333" stroke-width="2.7" fill="none"/>
</g>
</svg>
</body></html>
